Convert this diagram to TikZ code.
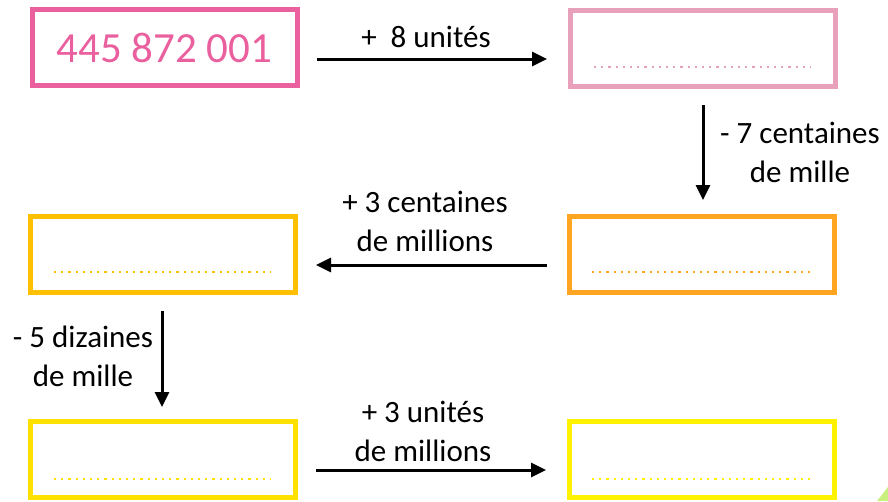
\documentclass[tikz,border=0pt]{standalone}
\usepackage{fontspec}
\setmainfont{Carlito}
\usetikzlibrary{arrows.meta,calc}
\definecolor{pinkA}{HTML}{EA5F9E}
\definecolor{pinkB}{HTML}{E9A0BA}
\definecolor{orangeC}{HTML}{FFA522}
\definecolor{goldD}{HTML}{FFC000}
\definecolor{yellowE}{HTML}{FFE100}
\definecolor{yellowF}{HTML}{FFF200}
\definecolor{greenG}{HTML}{C8F07C}
\begin{document}
\begin{tikzpicture}[x=1pt,y=-1pt,
  box/.style={draw=#1,line width=5pt,minimum width=265pt,minimum height=76pt,inner sep=0pt},
  arr/.style={line width=3pt,-{Triangle[length=15pt,width=14pt]}},
  lab/.style={font=\fontsize{31}{39}\selectfont,align=center,anchor=base,inner sep=0pt},
  dots/.style={draw=#1,line width=2.2pt,dash pattern=on 2.2pt off 5pt}]
\useasboundingbox (0,0) rectangle (888,501);
% boxes
\node[box=pinkA,text=pinkA,font=\fontsize{43}{52}\selectfont] (b1) at (164.5,47.5) {445 872 001};
\node[box=pinkB] (b2) at (703,48) {};
\node[box=orangeC] (b3) at (702,254.5) {};
\node[box=goldD] (b4) at (163,254.5) {};
\node[box=yellowE] (b5) at (163,459.5) {};
\node[box=yellowF] (b6) at (702,459.5) {};
% dotted answer lines
\draw[dots=pinkB] ($(b2.center)+(-109,19)$) -- ++(217,0);
\draw[dots=orangeC] ($(b3.center)+(-110,17.5)$) -- ++(219,0);
\draw[dots=goldD] ($(b4.center)+(-109,17.5)$) -- ++(217,0);
\draw[dots=yellowE] ($(b5.center)+(-109,19.5)$) -- ++(217,0);
\draw[dots=yellowF] ($(b6.center)+(-110,19.5)$) -- ++(219,0);
% arrow end points
\coordinate (a1s) at (317,59);
\coordinate (a1e) at (547,59);
\coordinate (a2s) at (703,105);
\coordinate (a2e) at (703,200);
\coordinate (a3s) at (547,265);
\coordinate (a3e) at (316,265);
\coordinate (a4s) at (162,311);
\coordinate (a4e) at (162,407);
\coordinate (a5s) at (316,470);
\coordinate (a5e) at (546,470);
\draw[arr] (a1s) -- (a1e);
\draw[arr] (a2s) -- (a2e);
\draw[arr] (a3s) -- (a3e);
\draw[arr] (a4s) -- (a4e);
\draw[arr] (a5s) -- (a5e);
% labels (base anchor = baseline of the last line)
\node[lab] (l1) at (426,47) {+\ \ 8 unités};
\node[lab] (l2) at (800,182) {- 7 centaines\\de mille};
\node[lab] (l3) at (425,251) {+ 3 centaines\\de millions};
\node[lab] (l4) at (83,386) {- 5 dizaines\\de mille};
\node[lab] (l5) at (423,461) {+ 3 unités\\de millions};
% corner decoration
\fill[greenG] (888,487) -- (888,501) -- (877,501) -- cycle;
\end{tikzpicture}
\end{document}
